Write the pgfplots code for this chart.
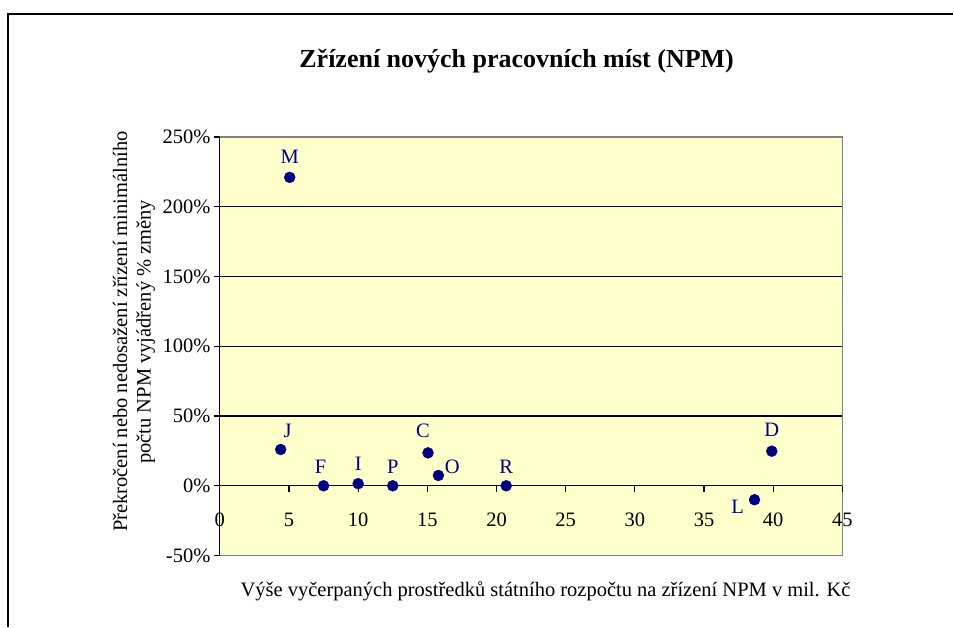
\documentclass[border=0pt]{standalone}
\usepackage{pgfplots}
\usepackage{pgfplotstable}
\pgfplotsset{compat=1.18}
\usepackage{fontspec}
\setmainfont{Liberation Serif}
\definecolor{bgy}{HTML}{FFFFCC}
\definecolor{navy}{HTML}{000080}
\definecolor{frame}{HTML}{808080}
\newcommand\lbl{\fontsize{20.5bp}{23.5bp}\selectfont}
\pgfplotstableread{
x y lab dx dy
5.05 221 M 0 21
4.4 26 J 7 19
7.5 0 F -3 19
10 1.5 I 0 20
12.5 0 P 0 19
15.05 23.6 C -5 22
15.8 7.4 O 14 9
20.7 0 R 0 19
39.9 24.8 D 0 21
38.65 -10 L -17 -7
}\datatable
\begin{document}
\begin{tikzpicture}
\path (0,0) rectangle (954bp,627bp);
\draw[black, line width=1.5bp] (8bp,0) -- (8bp,613bp) -- (954bp,613bp);
\begin{axis}[
  at={(220bp,71bp)}, anchor=south west,
  scale only axis, width=623bp, height=419bp,
  xmin=0, xmax=45, ymin=-50, ymax=250,
  set layers,
  axis background/.style={fill=bgy, draw=frame, line width=1.3bp},
  axis x line=middle, axis y line=left,
  axis line style={-, black, line width=1.3bp},
  xtick={0,5,...,45}, ytick={-50,0,...,250},
  yticklabel={\pgfmathprintnumber{\tick}\%},
  tick align=outside, major tick length=6bp,
  tick style={black, line width=1.3bp},
  hide obscured x ticks=false,
  /pgf/number format/assume math mode=true,
  ticklabel style={font=\lbl},
  xticklabel style={yshift=-18bp},
  extra y ticks={0,50,100,150,200}, extra y tick labels={},
  extra y tick style={grid=major, major tick length=0pt},
  grid style={black, line width=1.3bp},
  clip=false,
]
\addplot[only marks, mark=*, mark size=5.5bp, color=navy,
  point meta=explicit symbolic,
  nodes near coords,
  visualization depends on={\thisrow{dx}\as\dx},
  visualization depends on={\thisrow{dy}\as\dy},
  every node near coord/.append style={anchor=center, xshift=\dx bp, yshift=\dy bp, font=\lbl, text=navy},
] table[x=x, y=y, meta=lab] {\datatable};
\end{axis}
\node[anchor=base, font=\fontsize{26bp}{30bp}\selectfont\bfseries] at (517bp,559bp) {Zřízení nových pracovních míst (NPM)};
\node[anchor=base, font=\lbl] at (546bp,30bp) {Výše vyčerpaných prostředků státního rozpočtu na zřízení NPM v mil. Kč};
\node[rotate=90, align=center, font=\lbl] at (134bp,295bp) {Překročení nebo nedosažení zřízení minimálního\\počtu NPM vyjádřený \% změny};
\end{tikzpicture}
\end{document}
